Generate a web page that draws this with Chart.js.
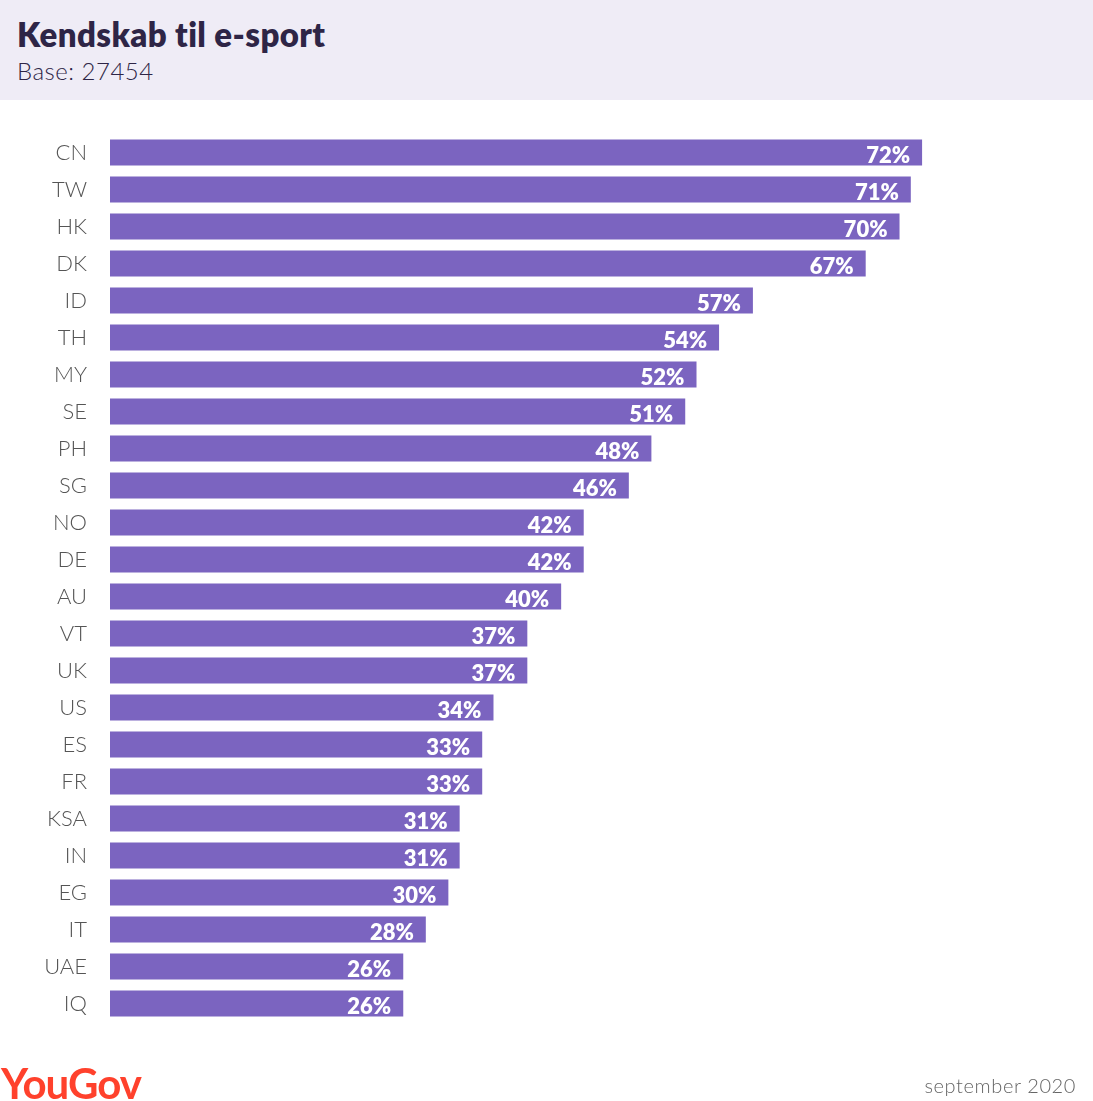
<!DOCTYPE html>
<html>
<head>
<meta charset="utf-8">
<script src="https://cdn.jsdelivr.net/npm/chart.js@4"></script>
<style>
  body { margin: 0; width: 1093px; height: 1101px; position: relative; background: #fff; font-family: Lato, "Open Sans", sans-serif; overflow: hidden; }
  .head { position: absolute; left: 0; top: 0; width: 1093px; height: 100px; background: #efecf6; }
  .head h1 { position: absolute; left: 17px; top: 14px; margin: 0; font-size: 33px; font-weight: 800; color: #2e2546; letter-spacing: 0.4px; }
  .head .base { position: absolute; left: 17px; top: 56px; font-size: 24px; color: #2e2546; font-weight: 300; letter-spacing: 0.5px; }
  .logo { position: absolute; left: 1px; top: 1058px; font-size: 42px; font-weight: 700; color: #ff412c; letter-spacing: -1px; }
  .date { position: absolute; right: 17px; top: 1073px; font-size: 20px; color: #666; font-weight: 300; letter-spacing: 0.6px; }
  .wrap { position: absolute; left: 0; top: 0; width: 1093px; height: 1101px; }
</style>
</head>
<body>
<div class="head"><h1>Kendskab til e-sport</h1><div class="base">Base: 27454</div></div>
<div class="wrap"><canvas id="c"></canvas></div>
<div class="logo">YouGov</div>
<div class="date">september 2020</div>
<script>
const countries = ['CN','TW','HK','DK','ID','TH','MY','SE','PH','SG','NO','DE','AU','VT','UK','US','ES','FR','KSA','IN','EG','IT','UAE','IQ'];
const awareness = [72,71,70,67,57,54,52,51,48,46,42,42,40,37,37,34,33,33,31,31,30,28,26,26];

const valueLabels = {
    id: 'valueLabels',
    afterDatasetsDraw(chart) {
        const c = chart.ctx;
        const meta = chart.getDatasetMeta(0);
        c.save();
        c.fillStyle = '#fff';
        c.font = '800 22px Lato, "Open Sans", sans-serif';
        c.textAlign = 'right';
        c.textBaseline = 'middle';
        meta.data.forEach((bar, i) => {
            c.fillText(awareness[i] + '%', bar.x - 12, bar.y + 3);
        });
        c.restore();
    }
};

new Chart(document.getElementById('c'), {
    type: 'bar',
    data: {
        labels: countries,
        datasets: [{
            data: awareness,
            backgroundColor: '#7b64c0',
            categoryPercentage: 0.7,
            barPercentage: 1
        }]
    },
    options: {
        indexAxis: 'y',
        responsive: true,
        maintainAspectRatio: false,
        animation: false,
        layout: { padding: { top: 134, bottom: 79, right: 13, left: 0 } },
        plugins: { legend: { display: false }, tooltip: { enabled: false } },
        scales: {
            x: { display: false, min: 0, max: 86 },
            y: {
                grid: { display: false, drawTicks: false },
                border: { display: false },
                afterFit(scale) { scale.width = 110; },
                ticks: {
                    padding: 23,
                    color: '#555',
                    font: { family: 'Lato, "Open Sans", sans-serif', size: 22, weight: 300 }
                }
            }
        }
    },
    plugins: [valueLabels]
});
</script>
</body>
</html>
